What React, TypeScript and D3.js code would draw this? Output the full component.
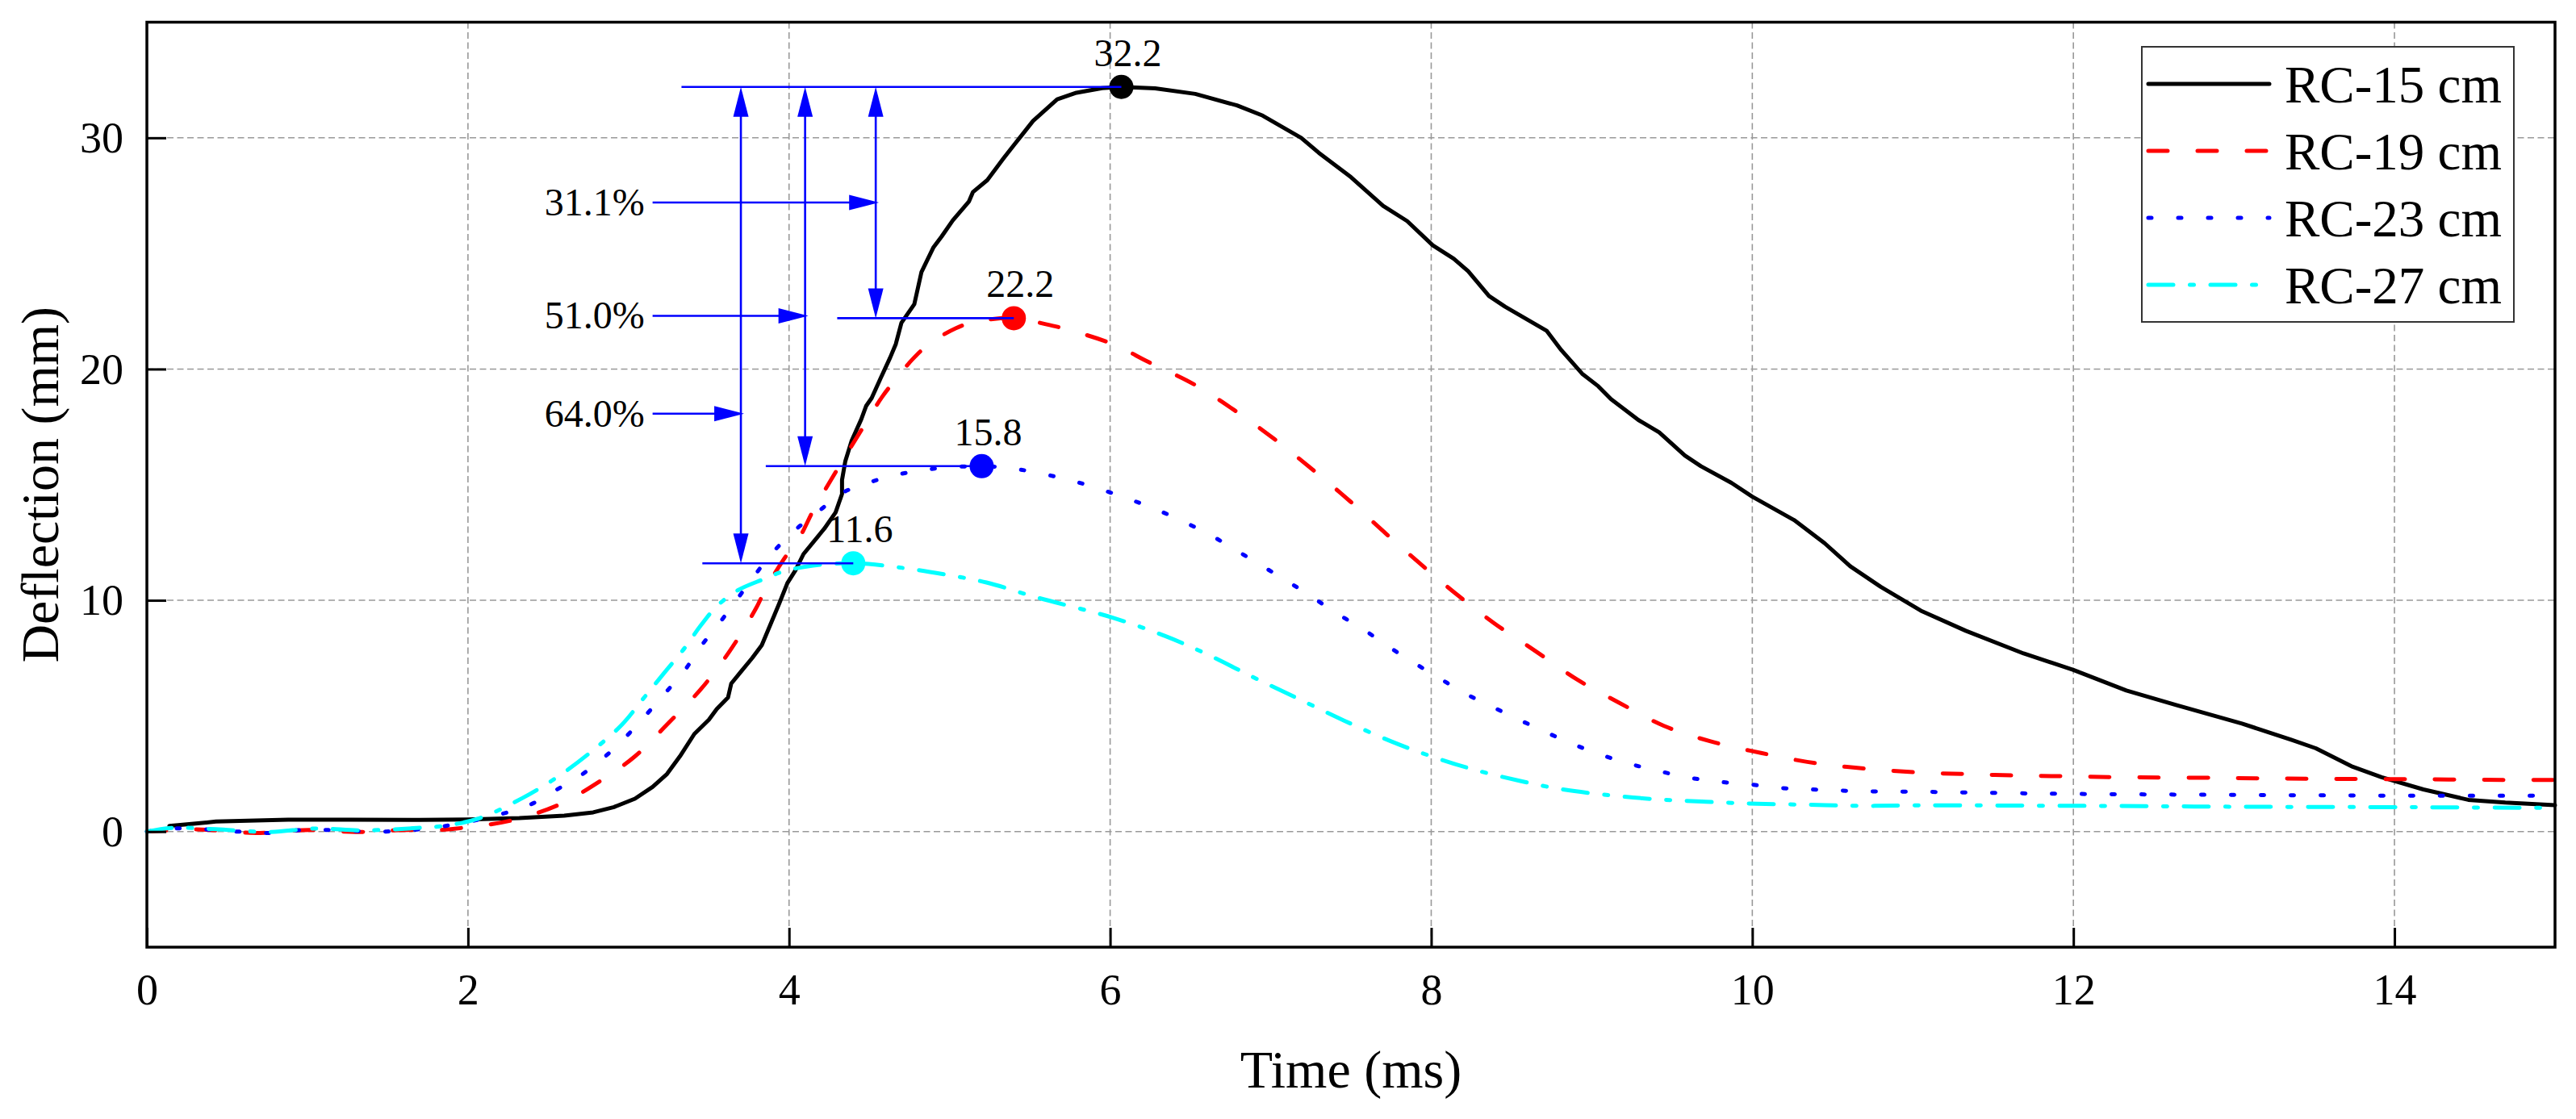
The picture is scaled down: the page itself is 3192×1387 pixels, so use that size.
import { useRef, useEffect } from 'react'
import * as d3 from 'd3'

type Pt = [number, number]

// time (ms), deflection (mm)
const rc15: Pt[] = [
  [0.14, 0.24], [0.43, 0.43], [0.88, 0.51], [1.26, 0.51], [1.7, 0.5], [2.0, 0.52], [2.32, 0.58],
  [2.6, 0.69], [2.78, 0.83], [2.91, 1.06], [3.04, 1.42], [3.15, 1.93], [3.24, 2.49], [3.32, 3.25],
  [3.41, 4.22], [3.5, 4.83], [3.55, 5.3], [3.62, 5.8], [3.64, 6.4], [3.7, 6.91], [3.77, 7.5],
  [3.83, 8.06], [3.89, 9.05], [3.94, 9.88], [3.99, 10.75], [4.04, 11.3], [4.09, 12.0], [4.22, 13.1],
  [4.29, 13.8], [4.33, 14.6], [4.33, 15.2], [4.35, 16.0], [4.39, 16.9], [4.45, 17.83], [4.48, 18.4],
  [4.515, 18.75], [4.57, 19.6], [4.63, 20.5], [4.665, 21.08], [4.7, 22.0], [4.78, 22.8],
  [4.825, 24.2], [4.9, 25.27], [4.95, 25.73], [5.02, 26.43], [5.12, 27.24], [5.145, 27.65],
  [5.235, 28.17], [5.335, 29.1], [5.4, 29.68], [5.52, 30.73], [5.67, 31.66], [5.79, 31.95],
  [5.95, 32.15], [6.07, 32.2], [6.28, 32.14], [6.53, 31.9], [6.79, 31.4], [6.95, 30.96],
  [7.19, 30.0], [7.3, 29.35], [7.5, 28.3], [7.7, 27.06], [7.85, 26.4], [8.01, 25.35], [8.14, 24.77],
  [8.23, 24.23], [8.36, 23.16], [8.46, 22.7], [8.72, 21.65], [8.81, 20.82], [8.94, 19.8],
  [9.04, 19.26], [9.12, 18.7], [9.29, 17.8], [9.42, 17.26], [9.58, 16.26], [9.68, 15.8],
  [9.87, 15.08], [10.0, 14.48], [10.26, 13.47], [10.45, 12.47], [10.61, 11.47], [10.8, 10.58],
  [11.05, 9.55], [11.33, 8.68], [11.69, 7.7], [12.0, 6.99], [12.33, 6.1], [12.64, 5.47],
  [13.05, 4.67], [13.36, 3.96], [13.51, 3.6], [13.74, 2.8], [13.92, 2.35], [14.18, 1.82],
  [14.46, 1.37], [14.69, 1.25], [15.0, 1.14],
]

const rc19: Pt[] = [
  [0, 0], [0.31, 0.09], [0.68, -0.06], [1.01, 0.07], [1.3, -0.02], [1.57, 0.06], [1.83, 0.07],
  [1.98, 0.17], [2.27, 0.48], [2.57, 1.17], [2.83, 2.21], [3.04, 3.25], [3.24, 4.63], [3.45, 6.15],
  [3.63, 7.8], [3.79, 9.6], [3.86, 10.57], [3.97, 11.8], [4.07, 12.78], [4.15, 13.88], [4.26, 15.19],
  [4.35, 16.23], [4.46, 17.47], [4.58, 18.8], [4.665, 19.56], [4.77, 20.43], [4.87, 21.07],
  [5.04, 21.77], [5.17, 22.06], [5.4, 22.2], [5.6, 21.94], [5.74, 21.7], [6.02, 21.07],
  [6.24, 20.3], [6.52, 19.35], [6.77, 18.24], [7.01, 17.04], [7.27, 15.6], [7.5, 14.25],
  [7.72, 12.87], [7.95, 11.47], [8.14, 10.36], [8.39, 9.02], [8.65, 7.8], [8.91, 6.57],
  [9.17, 5.57], [9.45, 4.57], [9.74, 3.9], [10.06, 3.39], [10.39, 2.96], [10.71, 2.72],
  [11.05, 2.55], [11.36, 2.48], [11.66, 2.42], [11.97, 2.39], [12.28, 2.35], [12.9, 2.32],
  [13.51, 2.28], [14.13, 2.26], [14.74, 2.23], [15.0, 2.23],
]

const rc23: Pt[] = [
  [0, 0], [0.19, 0.14], [0.56, 0], [0.76, -0.06], [0.93, 0.05], [1.12, 0.07], [1.49, 0],
  [1.85, 0.23], [2.21, 0.76], [2.39, 1.17], [2.55, 1.8], [2.7, 2.42], [2.83, 3.1], [2.97, 4.0],
  [3.1, 4.97], [3.23, 6.0], [3.35, 6.97], [3.45, 8.0], [3.57, 9.05], [3.68, 10.08], [3.79, 11.12],
  [3.9, 12.08], [4.04, 13.05], [4.19, 13.88], [4.33, 14.64], [4.51, 15.12], [4.7, 15.47],
  [4.89, 15.68], [5.2, 15.8], [5.44, 15.65], [5.8, 15.1], [6.12, 14.37], [6.29, 13.92],
  [6.47, 13.36], [6.63, 12.8], [6.79, 12.14], [6.95, 11.47], [7.11, 10.8], [7.26, 10.13],
  [7.42, 9.4], [7.58, 8.73], [7.72, 8.06], [7.88, 7.35], [8.04, 6.68], [8.2, 6.01], [8.36, 5.46],
  [8.54, 4.86], [8.72, 4.28], [8.88, 3.79], [9.05, 3.34], [9.23, 2.94], [9.41, 2.63], [9.6, 2.34],
  [9.78, 2.16], [9.97, 2.05], [10.16, 1.89], [10.34, 1.83], [10.51, 1.78], [10.71, 1.74],
  [11.05, 1.72], [11.82, 1.64], [12.59, 1.6], [13.36, 1.57], [14.13, 1.55], [15.0, 1.55],
]

const rc27: Pt[] = [
  [0, 0], [0.16, 0.16], [0.43, 0.1], [0.76, -0.02], [1.05, 0.13], [1.35, 0.05], [1.7, 0.16],
  [1.83, 0.23], [2.06, 0.55], [2.34, 1.45], [2.57, 2.42], [2.78, 3.52], [2.96, 4.63], [3.09, 5.73],
  [3.22, 6.84], [3.35, 7.94], [3.45, 8.91], [3.55, 9.74], [3.68, 10.43], [3.84, 10.91],
  [3.97, 11.26], [4.15, 11.5], [4.4, 11.6], [4.71, 11.4], [4.97, 11.12], [5.23, 10.77],
  [5.53, 10.15], [6.02, 9.24], [6.34, 8.46], [6.6, 7.68], [6.89, 6.68], [7.17, 5.75], [7.46, 4.79],
  [7.75, 3.9], [8.01, 3.23], [8.27, 2.67], [8.56, 2.18], [8.81, 1.83], [9.07, 1.6], [9.39, 1.4],
  [9.71, 1.29], [10.03, 1.2], [10.35, 1.16], [10.67, 1.11], [11.05, 1.13], [12.07, 1.11],
  [13.1, 1.07], [14.13, 1.05], [15.0, 1.02],
]

const seriesNames = ['RC-15 cm', 'RC-19 cm', 'RC-23 cm', 'RC-27 cm']
const seriesData = [rc15, rc19, rc23, rc27]
const seriesColors = ['#000000', '#FF0000', '#0000FF', '#00FFFF']
const seriesDash = ['none', '24,37', '4,33', '31,20.5,5,20.5']

// peaks
const peakTime = [6.07, 5.4, 5.2, 4.4]
const peakValue = [32.2, 22.2, 15.8, 11.6]
const guideStart = [3.33, 4.3, 3.855, 3.46]

// reduction arrows (RC-19, RC-23, RC-27 against RC-15)
const dropLabels = ['31.1%', '51.0%', '64.0%']
const dropX = [4.54, 4.1, 3.7]
const dropTo = [22.2, 15.8, 11.6]
const dropLabelY = [27.2, 22.3, 18.07]
const pointerStart = 3.15

const xTicks = [0, 2, 4, 6, 8, 10, 12, 14]
const yTicks = [0, 10, 20, 30]

const FONT = "'Liberation Serif', 'Times New Roman', serif"

export default function App() {
  const svgRef = useRef<SVGSVGElement>(null)

  useEffect(() => {
    if (!svgRef.current) return
    const W = 3192
    const H = 1387
    const margin = { top: 27.5, right: 26, bottom: 213, left: 182 }
    const innerW = W - margin.left - margin.right
    const innerH = H - margin.top - margin.bottom

    const svg = d3.select(svgRef.current)
    svg.selectAll('*').remove()
    svg.attr('width', W).attr('height', H)
    svg.append('rect').attr('width', W).attr('height', H).attr('fill', '#fff')

    const g = svg.append('g').attr('transform', `translate(${margin.left},${margin.top})`)

    const x = d3.scaleLinear().domain([0, 15]).range([0, innerW])
    const y = d3.scaleLinear().domain([-5, 35]).range([innerH, 0])

    // grid
    g.selectAll('.gx')
      .data(xTicks.filter((t) => t > 0))
      .join('line')
      .attr('x1', (d) => x(d))
      .attr('x2', (d) => x(d))
      .attr('y1', 0)
      .attr('y2', innerH)
      .attr('stroke', '#999')
      .attr('stroke-width', 1.6)
      .attr('stroke-dasharray', '8,4.5')

    g.selectAll('.gy')
      .data(yTicks)
      .join('line')
      .attr('x1', 0)
      .attr('x2', innerW)
      .attr('y1', (d) => y(d))
      .attr('y2', (d) => y(d))
      .attr('stroke', '#999')
      .attr('stroke-width', 1.6)
      .attr('stroke-dasharray', '8,4.5')

    // curves
    const rough = d3.line<Pt>().x((d) => x(d[0])).y((d) => y(d[1]))
    const smooth = d3
      .line<Pt>()
      .x((d) => x(d[0]))
      .y((d) => y(d[1]))
      .curve(d3.curveCatmullRom.alpha(0.5))

    seriesData.forEach((data, i) => {
      g.append('path')
        .datum(data)
        .attr('d', i === 0 ? rough : smooth)
        .attr('fill', 'none')
        .attr('stroke', seriesColors[i])
        .attr('stroke-width', 5)
        .attr('stroke-linecap', 'round')
        .attr('stroke-linejoin', 'round')
        .attr('stroke-dasharray', seriesDash[i])
    })

    // peak markers
    g.selectAll('.peak')
      .data(peakTime)
      .join('circle')
      .attr('cx', (d) => x(d))
      .attr('cy', (_, i) => y(peakValue[i]))
      .attr('r', 15)
      .attr('fill', (_, i) => seriesColors[i])

    // blue guides
    const blue = '#0000FF'
    const ann = g.append('g')
    peakTime.forEach((t, i) => {
      ann.append('line')
        .attr('x1', x(guideStart[i]))
        .attr('x2', x(t))
        .attr('y1', y(peakValue[i]))
        .attr('y2', y(peakValue[i]))
        .attr('stroke', blue)
        .attr('stroke-width', 2.6)
    })

    const headLen = 37
    const headHalf = 9.5
    const head = (tx: number, ty: number, dir: 'up' | 'down' | 'right') => {
      let pts: [number, number][]
      if (dir === 'up') pts = [[tx, ty], [tx - headHalf, ty + headLen], [tx + headHalf, ty + headLen]]
      else if (dir === 'down') pts = [[tx, ty], [tx - headHalf, ty - headLen], [tx + headHalf, ty - headLen]]
      else pts = [[tx, ty], [tx - headLen, ty - headHalf], [tx - headLen, ty + headHalf]]
      ann.append('path').attr('d', 'M' + pts.join('L') + 'Z').attr('fill', blue)
    }

    dropX.forEach((dx, i) => {
      const top = y(peakValue[0])
      const bot = y(dropTo[i])
      ann.append('line')
        .attr('x1', x(dx))
        .attr('x2', x(dx))
        .attr('y1', top + 10)
        .attr('y2', bot - 10)
        .attr('stroke', blue)
        .attr('stroke-width', 2.6)
      head(x(dx), top, 'up')
      head(x(dx), bot, 'down')

      const ly = y(dropLabelY[i])
      ann.append('line')
        .attr('x1', x(pointerStart))
        .attr('x2', x(dx) - 10)
        .attr('y1', ly)
        .attr('y2', ly)
        .attr('stroke', blue)
        .attr('stroke-width', 2.6)
      head(x(dx) + 4, ly, 'right')

      ann.append('text')
        .attr('x', x(pointerStart) - 10)
        .attr('y', ly)
        .attr('dy', '0.33em')
        .attr('text-anchor', 'end')
        .attr('font-family', FONT)
        .attr('font-size', 48)
        .attr('fill', '#000')
        .text(dropLabels[i])
    })

    // peak labels
    g.selectAll('.peakLabel')
      .data(peakValue)
      .join('text')
      .attr('x', (_, i) => x(peakTime[i]) + 8)
      .attr('y', (d) => y(d) - 26)
      .attr('text-anchor', 'middle')
      .attr('font-family', FONT)
      .attr('font-size', 48)
      .attr('fill', '#000')
      .text((d) => d.toFixed(1))

    // axes
    const xAxis = g
      .append('g')
      .attr('transform', `translate(0,${innerH})`)
      .call(d3.axisBottom(x).tickValues(xTicks).tickSize(-24).tickPadding(33).tickFormat((d) => `${d}`))
    const yAxis = g
      .append('g')
      .call(d3.axisLeft(y).tickValues(yTicks).tickSize(-24).tickPadding(29).tickFormat((d) => `${d}`))
    ;[xAxis, yAxis].forEach((ax) => {
      ax.attr('font-family', FONT)
      ax.select('.domain').remove()
      ax.selectAll('line').attr('stroke', '#000').attr('stroke-width', 3)
      ax.selectAll('text')
        .attr('fill', '#000')
        .attr('font-family', FONT)
        .attr('font-size', 54)
    })
    yAxis.selectAll('text').attr('dy', '0.33em')

    // frame
    g.append('rect')
      .attr('width', innerW)
      .attr('height', innerH)
      .attr('fill', 'none')
      .attr('stroke', '#000')
      .attr('stroke-width', 3.5)

    // axis titles
    svg.append('text')
      .attr('x', margin.left + innerW / 2)
      .attr('y', 1348)
      .attr('text-anchor', 'middle')
      .attr('font-family', FONT)
      .attr('font-size', 66)
      .attr('fill', '#000')
      .text('Time (ms)')

    svg.append('text')
      .attr('transform', `translate(72,${margin.top + innerH / 2}) rotate(-90)`)
      .attr('text-anchor', 'middle')
      .attr('font-family', FONT)
      .attr('font-size', 66)
      .attr('fill', '#000')
      .text('Deflection (mm)')

    // legend
    const lg = svg.append('g').attr('transform', 'translate(2654,58)')
    lg.append('rect')
      .attr('width', 461)
      .attr('height', 341)
      .attr('fill', '#fff')
      .attr('stroke', '#333')
      .attr('stroke-width', 2)
    seriesNames.forEach((name, i) => {
      const by = 69 + i * 83
      lg.append('line')
        .attr('x1', 8)
        .attr('x2', 158)
        .attr('y1', by - 23)
        .attr('y2', by - 23)
        .attr('stroke', seriesColors[i])
        .attr('stroke-width', 5)
        .attr('stroke-linecap', 'round')
        .attr('stroke-dasharray', seriesDash[i])
      lg.append('text')
        .attr('x', 177)
        .attr('y', by)
        .attr('font-family', FONT)
        .attr('font-size', 65)
        .attr('fill', '#000')
        .text(name)
    })

    return () => {
      svg.selectAll('*').remove()
    }
  }, [])

  return (
    <div style={{ position: 'absolute', left: 0, top: 0 }}>
      <svg ref={svgRef} width={3192} height={1387} style={{ display: 'block' }} />
    </div>
  )
}
